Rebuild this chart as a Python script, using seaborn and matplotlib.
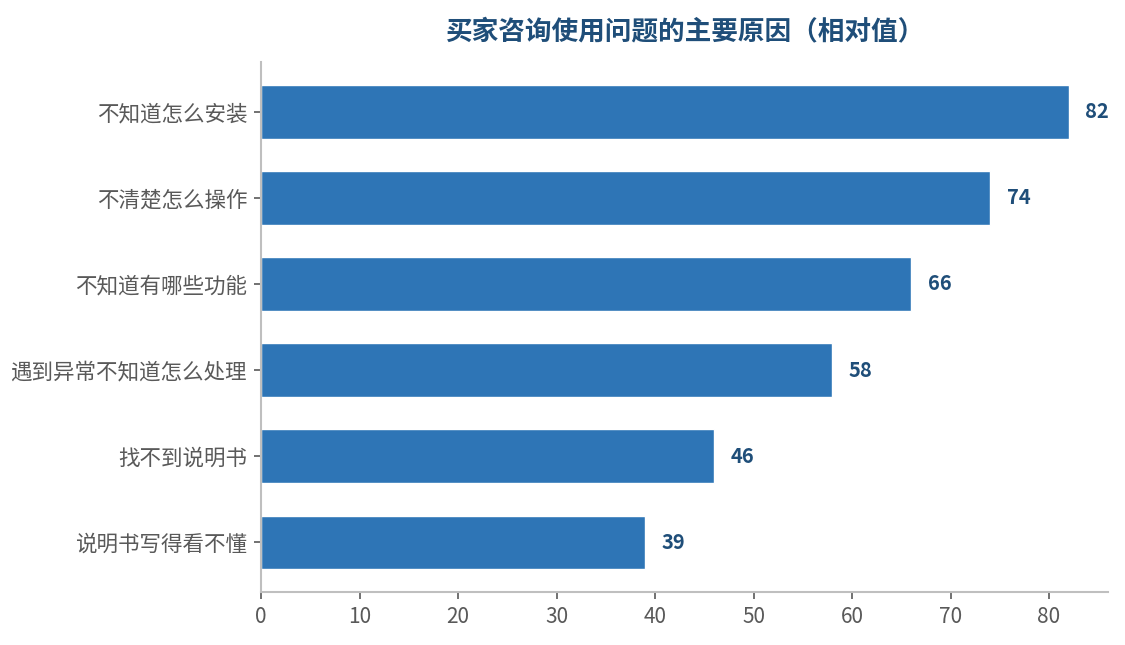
import matplotlib
matplotlib.use("Agg")
import matplotlib.pyplot as plt
import seaborn as sns
import pandas as pd

categories = ["不知道怎么安装", "不清楚怎么操作", "不知道有哪些功能",
              "遇到异常不知道怎么处理", "找不到说明书", "说明书写得看不懂"]
values = [82, 74, 66, 58, 46, 39]
xticks = [0, 10, 20, 30, 40, 50, 60, 70, 80]
title = "买家咨询使用问题的主要原因（相对值）"

sns.set_theme(style="white")
plt.rcParams['font.family'] = ['Noto Sans CJK SC', 'DejaVu Sans']

df = pd.DataFrame({"cat": categories, "val": values})

fig = plt.figure(figsize=(11.25, 6.45), dpi=100)
ax = fig.add_axes([0.232, 0.082, 0.753, 0.822])

sns.barplot(data=df, x="val", y="cat", color="#2E75B6", saturation=1,
            width=0.62, ax=ax, orient="h")

for p, v in zip(ax.patches, values):
    ax.annotate(f"{v}", (p.get_width(), p.get_y() + p.get_height() / 2),
                xytext=(12, 0), textcoords="offset points", ha="left", va="center",
                fontsize=14.5, fontweight="bold", color="#1F4E79")

ax.set_xlim(0, 86)
ax.set_ylim(5.58, -0.58)
ax.set_xticks(xticks)
ax.set_xlabel("")
ax.set_ylabel("")
ax.tick_params(axis="y", labelsize=15.5)
ax.tick_params(axis="x", labelsize=15)
ax.tick_params(axis="both", which="both", length=5, width=1.2, color="#595959",
               labelcolor="#595959", direction="out",
               bottom=True, left=True, pad=5)
for s in ["top", "right"]:
    ax.spines[s].set_visible(False)
for s in ["left", "bottom"]:
    ax.spines[s].set_color("#BFBFBF")
    ax.spines[s].set_linewidth(1.5)

ax.set_title(title, fontsize=19.2, fontweight="bold", color="#1F4E79", pad=16.5)

fig.savefig("out.png", dpi=100)
